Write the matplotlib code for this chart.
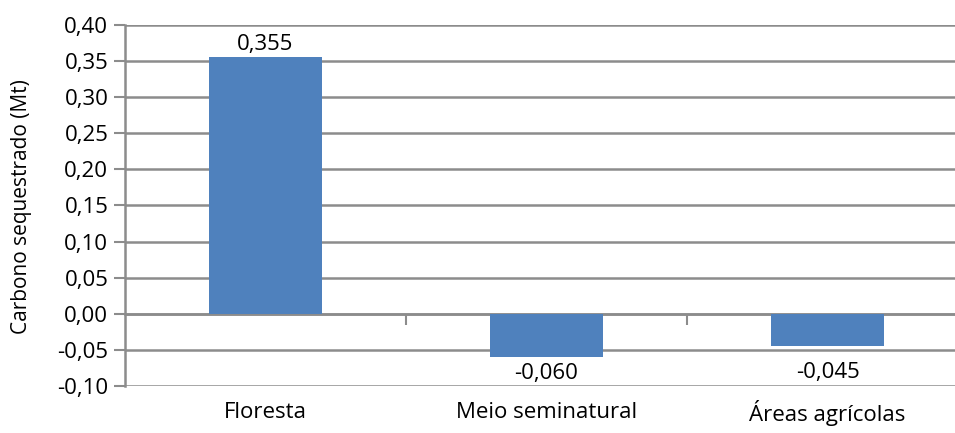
import matplotlib
matplotlib.use("Agg")
import matplotlib.pyplot as plt
from matplotlib.transforms import blended_transform_factory

categories = ["Floresta", "Meio seminatural", "Áreas agrícolas"]
values = [0.355, -0.060, -0.045]
value_labels = ["0,355", "-0,060", "-0,045"]
y_ticks = [-0.10, -0.05, 0.00, 0.05, 0.10, 0.15, 0.20, 0.25, 0.30, 0.35, 0.40]
y_tick_labels = ["-0,10", "-0,05", "0,00", "0,05", "0,10", "0,15", "0,20",
                 "0,25", "0,30", "0,35", "0,40"]
y_title = "Carbono sequestrado (Mt)"

plt.rcParams["font.family"] = ["Open Sans", "DejaVu Sans"]

W, H = 955, 433
fig = plt.figure(figsize=(W / 100, H / 100), dpi=100)
# plot area runs slightly past the right edge of the canvas
left, right, top, bottom = 125, 968, 25, 386
ax = fig.add_axes([left / W, 1 - bottom / H, (right - left) / W, (bottom - top) / H])

grid_color = "#8c8c8c"
bar_color = "#4f81bd"
text_color = "#000000"
fs = 16

x = list(range(len(categories)))
ax.bar(x, values, width=0.4, color=bar_color, zorder=3)

ax.set_xlim(-0.5, len(categories) - 0.5)
ax.set_ylim(-0.10, 0.40)
ax.set_yticks(y_ticks)
ax.set_yticklabels(y_tick_labels, fontsize=fs, color=text_color)
ax.tick_params(axis="y", length=8, width=1.5, color=grid_color, pad=4)
for t in y_ticks:
    ax.axhline(t, color=grid_color, lw=1.8, zorder=1)

for side in ("top", "right"):
    ax.spines[side].set_visible(False)
ax.spines["left"].set_color(grid_color)
ax.spines["left"].set_linewidth(1.8)
ax.spines["bottom"].set_position(("data", 0))
ax.spines["bottom"].set_color(grid_color)
ax.spines["bottom"].set_linewidth(1.8)

# category boundary ticks on the zero line
ax.set_xticks([i + 0.5 for i in x[:-1]])
ax.set_xticklabels([])
ax.tick_params(axis="x", length=8, width=1.5, color=grid_color, direction="out")

# category names below the plot area
tr = blended_transform_factory(ax.transData, fig.transFigure)
for xi, name in zip(x, categories):
    ax.text(xi, 1 - 413 / H, name, transform=tr, ha="center", va="center",
            fontsize=fs, color=text_color)

# value labels
for xi, v, lab in zip(x, values, value_labels):
    if v >= 0:
        y = v + 0.0175
    else:
        y = min(v - 0.022, -0.081)
    ax.text(xi, y, lab, ha="center", va="center", fontsize=fs,
            color=text_color, zorder=4)

fig.text(22 / W, 1 - 207 / H, y_title, rotation=90, ha="center", va="center",
         fontsize=15, color=text_color)

fig.savefig("out.png", dpi=100)
